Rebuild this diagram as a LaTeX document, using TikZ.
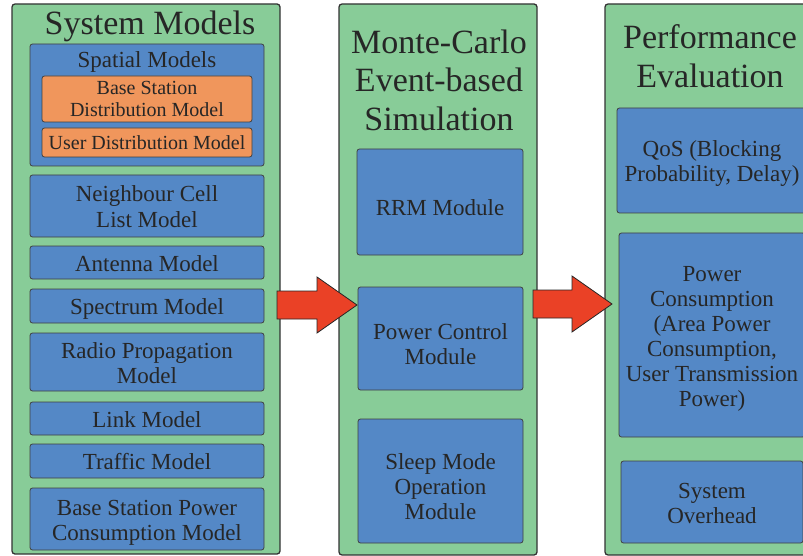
\documentclass[tikz,border=0pt]{standalone}
\usepackage{fontspec}
\setmainfont{Liberation Serif}
\usepackage{xcolor}
\usetikzlibrary{calc}

\definecolor{panelgreen}{RGB}{136,204,152}
\definecolor{modblue}{RGB}{84,136,198}
\definecolor{modorange}{RGB}{240,150,92}
\definecolor{arrowred}{RGB}{234,65,38}

\newcommand{\titlefont}{\fontsize{34}{38.5}\selectfont}
\newcommand{\modfont}{\fontsize{23}{25}\selectfont}
\newcommand{\subfont}{\fontsize{20}{22}\selectfont}
% struts that set the text a little low in its box
\newcommand{\topgap}[1][23pt]{\rule{0pt}{#1}}
\newcommand{\botgap}{\rule[-6pt]{0pt}{6pt}}

% fat block arrow from #1 to tip #2
\newcommand{\fatarrow}[2]{%
  \draw[bigarrow] let \p1=(#1), \p2=(#2) in
    (\x1,\y1+14pt) -- (\x2-40pt,\y1+14pt) -- (\x2-40pt,\y1+28pt) -- (\x2,\y1)
    -- (\x2-40pt,\y1-28pt) -- (\x2-40pt,\y1-14pt) -- (\x1,\y1-14pt) -- cycle;}

\begin{document}
\begin{tikzpicture}[
  x=1pt, y=-1pt,
  panel/.style={draw=black!80, line width=1.3pt, fill=panelgreen, rounded corners=3pt,
                inner sep=0pt},
  mod/.style={draw=black!75, line width=0.8pt, fill=#1, rounded corners=2.5pt,
              align=center, inner sep=0pt, text=black!85},
  mod/.default=modblue,
  title/.style={font=\titlefont, align=center, text=black!85, inner sep=0pt},
  bigarrow/.style={fill=arrowred, draw=black!85, line width=0.8pt},
]
\useasboundingbox (0,0) rectangle (803,556);

% ---- system models (left) ----
\node[panel, minimum width=268, minimum height=550] (sys) at (146,279) {};
\node[title, anchor=base] (systitle) at (150,35) {System Models};

\node[mod, minimum width=234, minimum height=122] (spat) at (147,105) {};
\node[mod, anchor=base, draw=none, fill=none, font=\modfont] (spattitle) at (147,68) {Spatial Models};
\node[mod=modorange, font=\subfont, minimum width=210, minimum height=46] (bsd) at (147,99)
  {Base Station\\Distribution Model};
\node[mod=modorange, font=\subfont, minimum width=210, minimum height=29] (usd) at (147,142.5)
  {User Distribution Model};

\node[mod, font=\modfont, minimum width=234, minimum height=62] (ncl) at (147,206)
  {\topgap Neighbour Cell\\List Model\botgap};
\node[mod, font=\modfont, minimum width=234, minimum height=33] (ant) at (147,262.5)
  {\topgap Antenna Model\botgap};
\node[mod, font=\modfont, minimum width=234, minimum height=34] (spec) at (147,306)
  {\topgap Spectrum Model\botgap};
\node[mod, font=\modfont, minimum width=234, minimum height=58] (prop) at (147,362)
  {\topgap Radio Propagation\\Model\botgap};
\node[mod, font=\modfont, minimum width=234, minimum height=33] (link) at (147,418.5)
  {\topgap Link Model\botgap};
\node[mod, font=\modfont, minimum width=234, minimum height=34] (traf) at (147,461)
  {\topgap Traffic Model\botgap};
\node[mod, font=\modfont, minimum width=234, minimum height=62] (bspc) at (147,519)
  {\topgap Base Station Power\\Consumption Model\botgap};

% ---- monte-carlo simulation (middle) ----
\node[panel, minimum width=198, minimum height=551] (sim) at (438,279.5) {};
\node[title] (simtitle) at (439,80) {Monte-Carlo\\Event-based\\Simulation};

\node[mod, font=\modfont, minimum width=166, minimum height=106] (rrm) at (440,202)
  {\topgap[33pt]RRM Module\botgap};
\node[mod, font=\modfont, minimum width=165, minimum height=103] (pc) at (440.5,338.5)
  {\topgap[33pt]Power Control\\Module\botgap};
\node[mod, font=\modfont, minimum width=165, minimum height=124] (sleep) at (440.5,481)
  {\topgap[33pt]Sleep Mode\\Operation\\Module\botgap};

% ---- performance evaluation (right, cut at page edge) ----
\node[panel, minimum width=214, minimum height=551] (perf) at (712,279.5) {};
\node[title] (perftitle) at (710,56) {Performance\\Evaluation};

\node[mod, font=\modfont, minimum width=190, minimum height=105] (qos) at (712,160.5)
  {\topgap QoS (Blocking\\Probability, Delay)\botgap};
\node[mod, font=\modfont, minimum width=186, minimum height=204] (pwr) at (712,335)
  {\topgap Power\\Consumption\\(Area Power\\Consumption,\\User Transmission\\Power)\botgap};
\node[mod, font=\modfont, minimum width=182, minimum height=82] (ovh) at (712,502)
  {\topgap System\\Overhead\botgap};

% ---- flow arrows ----
\coordinate (a1) at (277,305);
\coordinate (a2) at (357,305);
\coordinate (b1) at (533,304);
\coordinate (b2) at (612,304);
\fatarrow{a1}{a2}
\fatarrow{b1}{b2}

\end{tikzpicture}
\end{document}
